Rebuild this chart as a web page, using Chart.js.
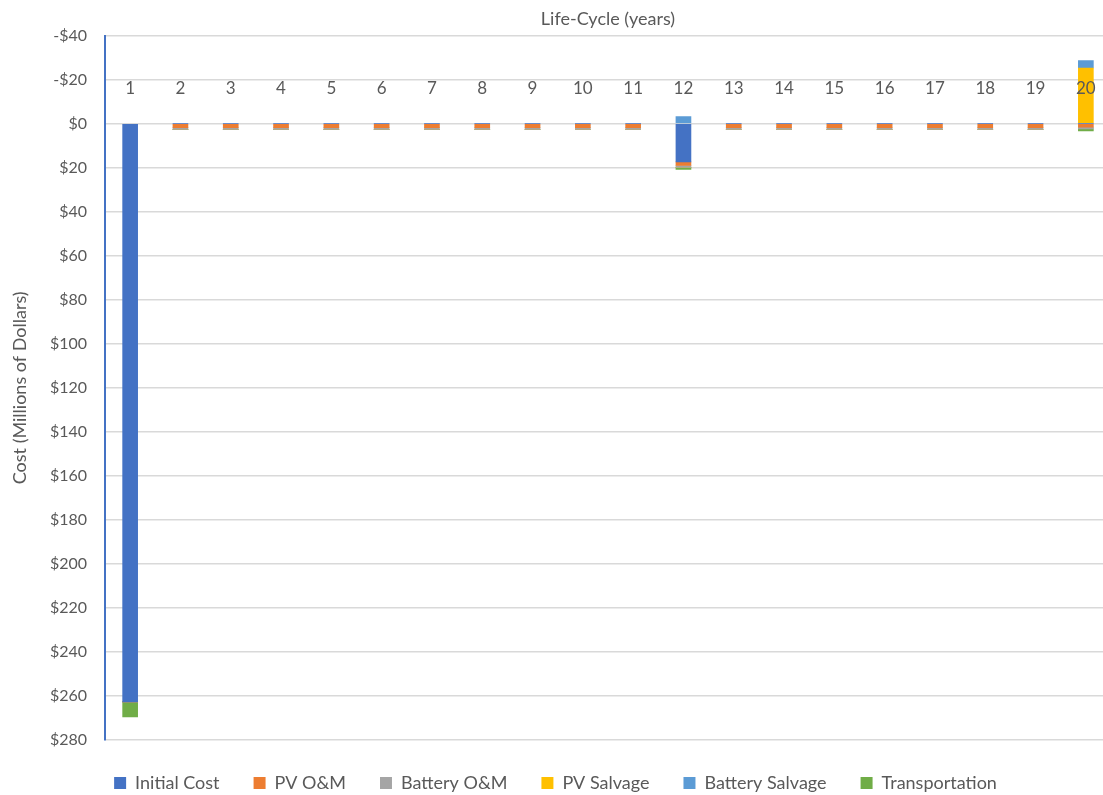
<!DOCTYPE html>
<html>
<head>
<meta charset="utf-8">
<script src="https://cdn.jsdelivr.net/npm/chart.js@4/dist/chart.umd.min.js"></script>
<style>
  html, body { margin: 0; padding: 0; overflow: hidden; background: #fff; }
</style>
</head>
<body>
<canvas id="costchart" width="1113" height="795"></canvas>
<script>
// years
const years = ['1','2','3','4','5','6','7','8','9','10','11','12','13','14','15','16','17','18','19','20'];

// cost per year, millions of dollars (negative = salvage income)
const initialCost    = [262.7, 0, 0, 0, 0, 0, 0, 0, 0, 0, 0, 17.4, 0, 0, 0, 0, 0, 0, 0, 0];
const pvOM           = [0, 1.8, 1.8, 1.8, 1.8, 1.8, 1.8, 1.8, 1.8, 1.8, 1.8, 1.6, 1.8, 1.8, 1.8, 1.8, 1.8, 1.8, 1.8, 1.6];
const batteryOM      = [0, 0.8, 0.8, 0.8, 0.8, 0.8, 0.8, 0.8, 0.8, 0.8, 0.8, 0.9, 0.8, 0.8, 0.8, 0.8, 0.8, 0.8, 0.8, 0.8];
const pvSalvage      = [0, 0, 0, 0, 0, 0, 0, 0, 0, 0, 0, 0, 0, 0, 0, 0, 0, 0, 0, -25.3];
const batterySalvage = [0, 0, 0, 0, 0, 0, 0, 0, 0, 0, 0, -3.2, 0, 0, 0, 0, 0, 0, 0, -3.3];
const transportation = [6.8, 0, 0, 0, 0, 0, 0, 0, 0, 0, 0, 0.9, 0, 0, 0, 0, 0, 0, 0, 0.9];

const yMin = -40, yMax = 280, yStep = 20;

const txt = '#595959';
const fam = 'Lato, "Open Sans", sans-serif';

function ds(label, data, color) {
  return { label: label, data: data, backgroundColor: color, borderWidth: 0, barThickness: 15 };
}

const ctx = document.getElementById('costchart').getContext('2d');
const chart = new Chart(ctx, {
  type: 'bar',
  data: {
    labels: years,
    datasets: [
      ds('Initial Cost', initialCost, '#4472C4'),
      ds('PV O&M', pvOM, '#ED7D31'),
      ds('Battery O&M', batteryOM, '#A5A5A5'),
      ds('PV Salvage', pvSalvage, '#FFC000'),
      ds('Battery Salvage', batterySalvage, '#5B9BD5'),
      ds('Transportation', transportation, '#70AD47')
    ]
  },
  options: {
    responsive: false,
    animation: false,
    layout: { padding: { left: 0, right: 2, top: 0, bottom: -7 } },
    plugins: {
      legend: {
        position: 'bottom',
        labels: { boxWidth: 12, boxHeight: 12, padding: 34, color: txt, font: { family: fam, size: 18 } }
      },
      tooltip: { enabled: false }
    },
    scales: {
      x: {
        stacked: true,
        position: { y: 0 },
        grid: { display: true, drawOnChartArea: false, drawTicks: true, tickLength: -48, tickColor: 'rgba(0,0,0,0)' },
        border: { display: false },
        // labels sit on top of the bars, like year 20
        ticks: { z: 1, color: txt, font: { family: fam, size: 17 }, maxRotation: 0, autoSkip: false },
        afterFit: s => { s.height = 0; }
      },
      x2: {
        type: 'category',
        position: 'top',
        labels: years,
        ticks: { display: false },
        grid: { display: false },
        border: { display: false },
        title: { display: true, text: 'Life-Cycle (years)', color: txt, font: { family: fam, size: 18 }, padding: { top: 8, bottom: -2 } }
      },
      y: {
        stacked: true,
        reverse: true,
        min: yMin,
        max: yMax,
        ticks: {
          stepSize: yStep,
          padding: 18,
          color: txt,
          font: { family: fam, size: 16 },
          callback: v => (v < 0 ? '-$' + (-v) : '$' + v)
        },
        grid: { color: '#d9d9d9', lineWidth: 1.5, drawTicks: false },
        border: { display: true, color: '#4472C4', width: 2 },
        title: { display: true, text: 'Cost (Millions of Dollars)', color: txt, font: { family: fam, size: 18 }, padding: { top: 9, bottom: 0 } },
        afterFit: s => { s.width = 105; }
      }
    }
  }
});
</script>
</body>
</html>
